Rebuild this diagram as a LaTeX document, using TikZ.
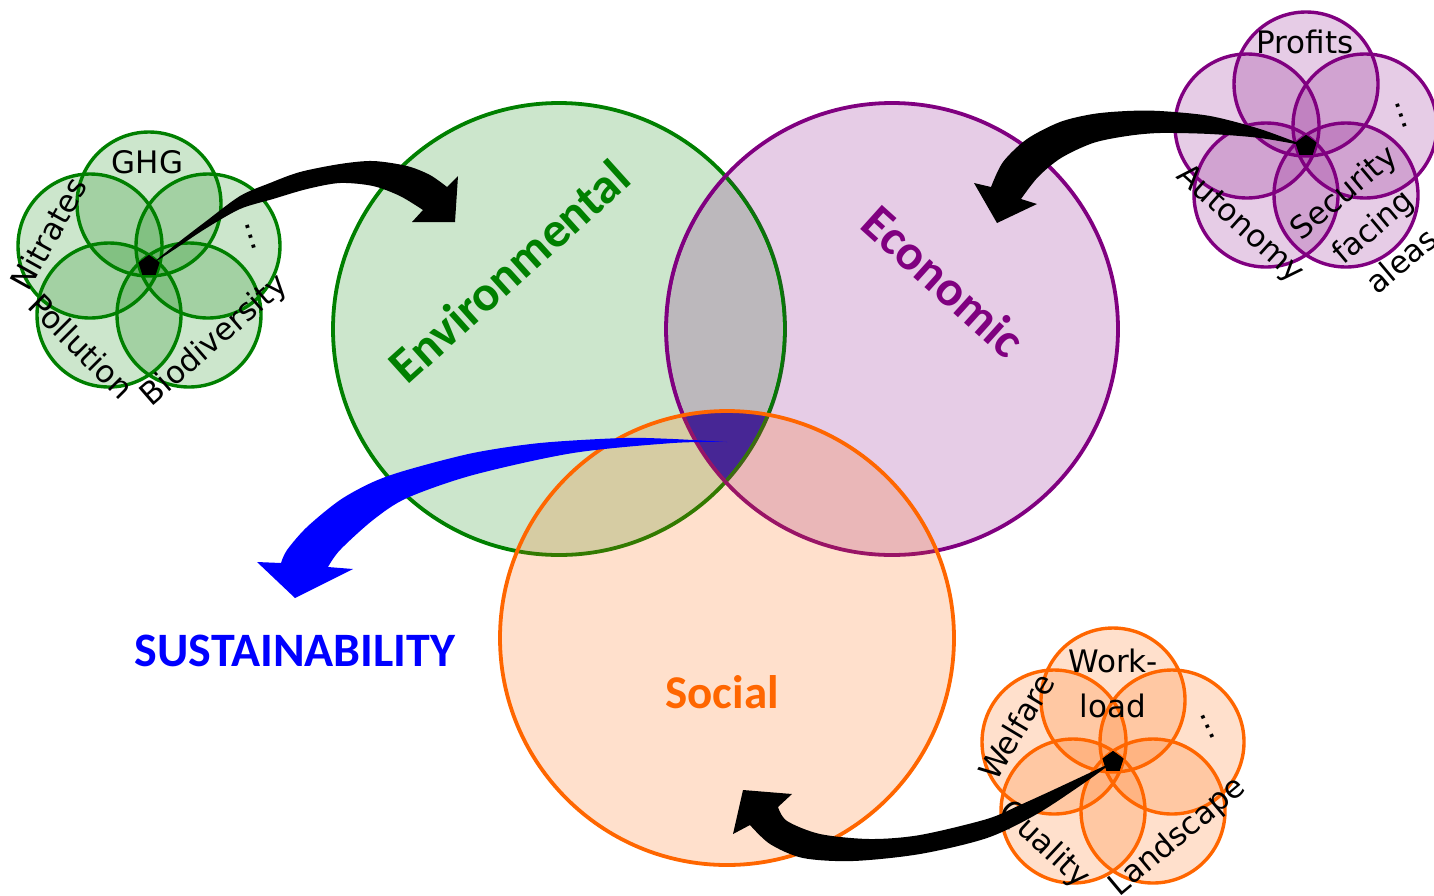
\documentclass[tikz,border=0pt]{standalone}
\usepackage{fontspec}
\setmainfont{Carlito}
\newfontfamily\critfont{DejaVu Sans}
\usetikzlibrary{shapes.geometric}

\definecolor{envgreen}{RGB}{0,128,0}
\definecolor{ecopurple}{RGB}{128,0,128}
\definecolor{socorange}{RGB}{255,102,0}
\definecolor{sustblue}{RGB}{0,0,255}
\definecolor{corecol}{RGB}{25,22,187}

\tikzset{
  pillarset/.style={line width=3.8pt, fill opacity=0.2},
  petalline/.style={line width=3.4pt},
  pillar/.style={font=\bfseries\fontsize{50}{60}\selectfont, inner sep=0pt},
  crit/.style={font=\critfont\fontsize{31}{46}\selectfont, inner sep=0pt,
               text height=23pt, text depth=6pt},
  critml/.style={font=\critfont\fontsize{31}{45}\selectfont, inner sep=0pt, align=center},
  more/.style={font=\critfont\fontsize{31}{46}\selectfont, inner sep=0pt,
               text height=4pt, text depth=0pt},
  hub/.style={regular polygon, regular polygon sides=5, fill=black, draw=none,
              inner sep=0pt, minimum size=22pt},
}

% five overlapping petals around the local origin
\newcommand\drawpetals[1]{%
  \foreach \dx/\dy in {0/-62,-59/-20,59/-20,-40/49,40/49}
    \fill[#1, fill opacity=0.2] (\dx,\dy) circle[radius=72pt];
  \foreach \dx/\dy in {0/-62,-59/-20,59/-20,-40/49,40/49}
    \draw[#1, petalline] (\dx,\dy) circle[radius=72pt];
}

\begin{document}
\begin{tikzpicture}[x=1pt,y=-1pt]
\useasboundingbox (0,0) rectangle (1434,895);

\coordinate (envC) at (559,329);
\coordinate (ecoC) at (892,329);
\coordinate (socC) at (727,638);

% the three pillars
\filldraw[draw=envgreen, fill=envgreen, pillarset] (envC) circle[radius=226pt];
\filldraw[draw=ecopurple, fill=ecopurple, pillarset] (ecoC) circle[radius=226pt];
\begin{scope}
  \clip (envC) circle[radius=226pt];
  \clip (ecoC) circle[radius=226pt];
  \fill[corecol] (socC) circle[radius=227pt];
  \draw[envgreen, line width=3.8pt] (envC) circle[radius=226pt];
  \draw[ecopurple, line width=3.8pt] (ecoC) circle[radius=226pt];
\end{scope}
\filldraw[draw=socorange, fill=socorange, pillarset] (socC) circle[radius=227pt];

\node[pillar, text=envgreen, rotate=42] (envL) at (509,271) {Environmental};
\node[pillar, text=ecopurple, rotate=-42] (ecoL) at (944,281) {Economic};
\node[pillar, text=socorange, anchor=base, font=\bfseries\fontsize{47}{56}\selectfont] (socL) at (722,708) {Social};
\node[pillar, text=sustblue, anchor=base, font=\bfseries\fontsize{48}{56}\selectfont] (sustL) at (295,666) {SUSTAINABILITY};

% environmental criteria
\begin{scope}[shift={(149,266)}]
  \drawpetals{envgreen}
\end{scope}
\node[crit, anchor=base] (ghg) at (147.5,173) {GHG};
\node[crit, rotate=61] (nitr) at (51,235) {Nitrates};
\node[crit, rotate=-45] (poll) at (79,348) {Pollution};
\node[crit, rotate=41] (biod) at (215,341) {Biodiversity};
\node[more, rotate=-73] (gmore) at (251,237) {…};

% economic criteria
\begin{scope}[shift={(1306,146)}]
  \drawpetals{ecopurple}
\end{scope}
\node[crit, anchor=base] (prof) at (1305,53) {Profits};
\node[more, rotate=-71] (pmore) at (1401,115) {…};
\node[crit, rotate=-42] (auto) at (1240,224) {Autonomy};
\node[critml, rotate=40] (secu) at (1372,226) {Security\\facing\\aleas};

% social criteria
\begin{scope}[shift={(1113,762)}]
  \drawpetals{socorange}
\end{scope}
\node[critml] (work) at (1113,683) {Work-\\load};
\node[crit, rotate=59] (welf) at (1019,728) {Welfare};
\node[more, rotate=-65] (omore) at (1208,727) {…};
\node[crit, rotate=-43] (qual) at (1044,845) {Quality};
\node[crit, rotate=40] (land) at (1178,837) {Landscape};

% aggregation hubs
\node[hub] (gp) at (149,266) {};
\node[hub] (pp) at (1306,146) {};
\node[hub] (op) at (1113,762) {};

% tapered arrows from each set of criteria to its pillar
\coordinate (envTip) at (455,222);
\coordinate (ecoTip) at (997,223);
\coordinate (socTip) at (743,790);
\coordinate (coreC) at (727,442);
\coordinate (sustTip) at (295,598);

\fill[black] (gp.center)
  -- plot[smooth] coordinates {(149,266)(175,245)(205,222)(240,196)(270,183)(300,172)(340,164)(373,161)(407,166)(430,175)(447,187)}
  -- (458,176) -- (envTip) -- (412,222)
  -- plot[smooth] coordinates {(423,210)(400,196)(373,186)(340,183)(307,189)(273,199)(240,209)(205,229)(175,249)(149,266)}
  -- cycle;

\fill[black] (pp.center)
  -- plot[smooth] coordinates {(1306,146)(1260,129)(1210,116)(1160,111)(1127,111)(1093,114)(1060,122)(1027,139)(1003,162)(991,187)}
  -- (974,183) -- (ecoTip) -- (1037,204)
  -- plot[smooth] coordinates {(1021,199)(1038,177)(1061,158)(1093,143)(1127,136)(1160,133)(1210,134)(1260,138)(1306,146)}
  -- cycle;

\fill[black] (op.center)
  -- plot[smooth] coordinates {(1113,762)(1100,768)(1053,790)(1020,805)(987,819)(920,835)(870,839)(820,834)(787,821)(778,807)}
  -- (792,794) -- (socTip) -- (733,834)
  -- plot[smooth] coordinates {(750,825)(770,844)(803,858)(853,861)(920,854)(987,838)(1037,814)(1087,781)(1113,762)}
  -- cycle;

\fill[sustblue] (coreC)
  -- plot[smooth] coordinates {(727,442)(673,439)(623,438)(540,443)(473,453)(407,470)(373,482)(340,500)(307,527)(287,550)(281,563)}
  -- (257,562) -- (sustTip) -- (353,569)
  -- plot[smooth] coordinates {(328,567)(340,550)(373,520)(407,498)(473,475)(573,453)(673,443)(727,442)}
  -- cycle;

\node[hub] at (gp) {};
\node[hub] at (pp) {};
\node[hub] at (op) {};
\end{tikzpicture}
\end{document}
